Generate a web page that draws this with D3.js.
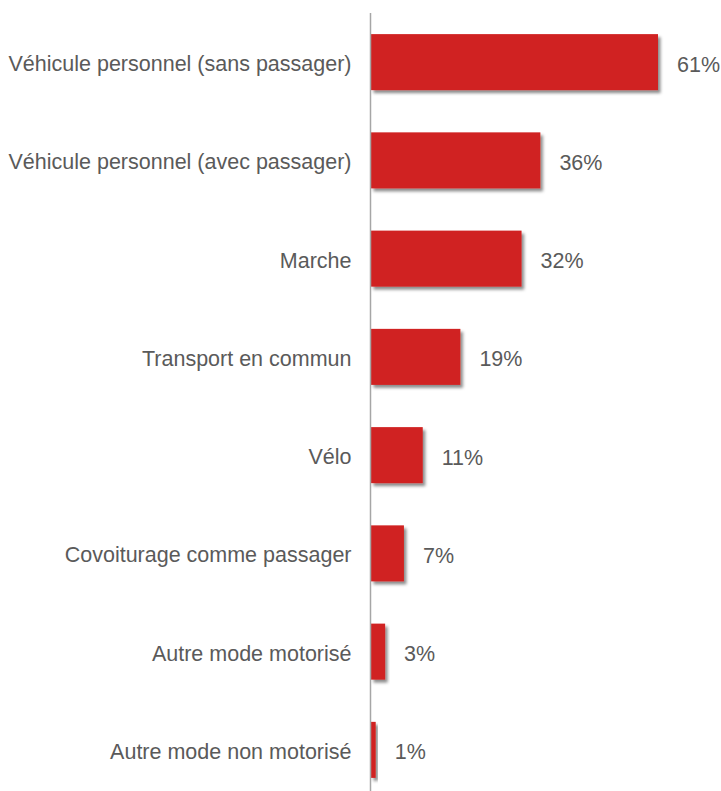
<!DOCTYPE html>
<html>
<head>
<meta charset="utf-8">
<script src="https://cdn.jsdelivr.net/npm/d3@7"></script>
<style>
  body { margin: 0; background: #fff; }
  text { font-family: "Liberation Sans", Arial, sans-serif; }
</style>
</head>
<body>
<div class="chart"></div>
<script>
// data
var categories = [
  "Véhicule personnel (sans passager)",
  "Véhicule personnel (avec passager)",
  "Marche",
  "Transport en commun",
  "Vélo",
  "Covoiturage comme passager",
  "Autre mode motorisé",
  "Autre mode non motorisé"
];
var values = [61, 36, 32, 19, 11, 7, 3, 1];
var valueLabels = ["61%", "36%", "32%", "19%", "11%", "7%", "3%", "1%"];

var svgWidth = 721;
var svgHeight = 791;

var margin = { top: 13, right: 0, bottom: 0, left: 371 };

var svg = d3.select(".chart")
  .append("svg")
  .attr("width", svgWidth)
  .attr("height", svgHeight);

// soft drop shadow under the bars
var defs = svg.append("defs");
var filter = defs.append("filter")
  .attr("id", "shadow")
  .attr("x", "-20%").attr("y", "-20%")
  .attr("width", "150%").attr("height", "150%");
filter.append("feDropShadow")
  .attr("dx", 2.5)
  .attr("dy", 3)
  .attr("stdDeviation", 1.6)
  .attr("flood-color", "#000")
  .attr("flood-opacity", 0.45);

var chartGroup = svg.append("g")
  .attr("transform", `translate(${margin.left}, ${margin.top})`);

var xScale = d3.scaleLinear()
  .domain([0, 61])
  .range([0, 287]);

var yScale = d3.scaleBand()
  .domain(categories)
  .range([0, 786])
  .paddingInner(0.43)
  .paddingOuter(0.215);

// bars
chartGroup.selectAll("rect.bar")
  .data(values)
  .enter()
  .append("rect")
  .attr("class", "bar")
  .attr("x", 0)
  .attr("y", (d, i) => yScale(categories[i]))
  .attr("width", d => xScale(d))
  .attr("height", yScale.bandwidth())
  .attr("fill", "#d02220")
  .attr("filter", "url(#shadow)");

// value labels
chartGroup.selectAll("text.value")
  .data(values)
  .enter()
  .append("text")
  .attr("class", "value")
  .attr("x", d => xScale(d) + 19)
  .attr("y", (d, i) => yScale(categories[i]) + yScale.bandwidth() / 2 + 2)
  .attr("dy", "0.35em")
  .attr("font-size", 21.5)
  .attr("fill", "#5a5a5a")
  .text((d, i) => valueLabels[i]);

// category axis
var leftAxis = d3.axisLeft(yScale).tickSize(0).tickPadding(19);
var yAxis = chartGroup.append("g")
  .attr("transform", "translate(-0.5, 0)")
  .call(leftAxis);

yAxis.select(".domain")
  .attr("stroke", "#a6a6a6")
  .attr("stroke-width", 1.5)
  .attr("d", "M0,0V" + (svgHeight));

yAxis.selectAll(".tick text")
  .attr("font-size", 21.5)
  .attr("y", 2)
  .attr("fill", "#5a5a5a")
  .style("font-family", "'Liberation Sans', Arial, sans-serif");
</script>
</body>
</html>
